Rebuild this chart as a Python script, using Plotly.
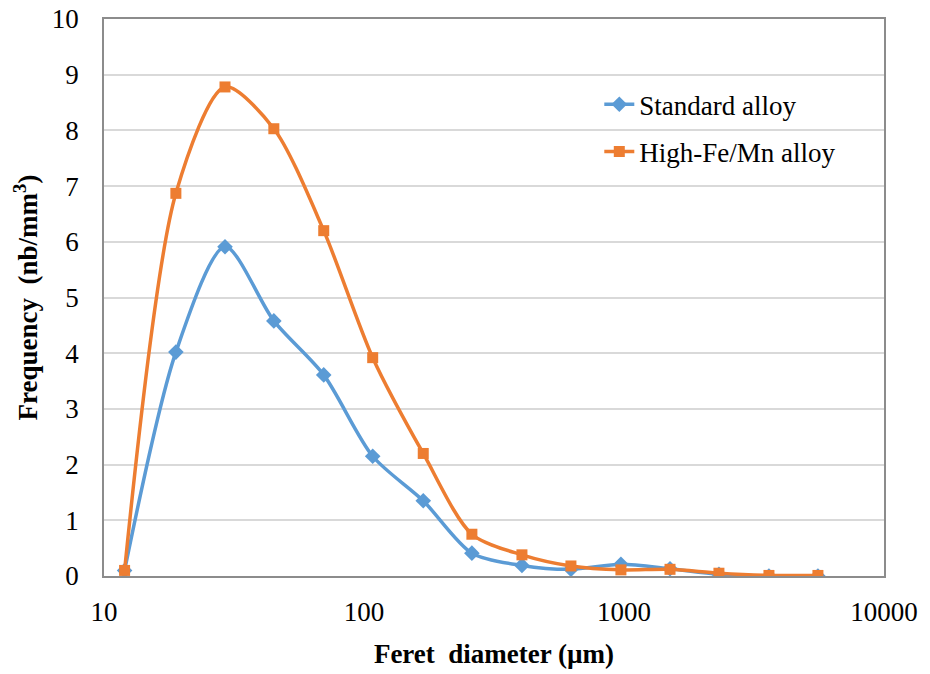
import plotly.graph_objects as go

diameter = [12, 18.9, 29.2, 45, 70, 108, 169, 260, 405, 625, 973, 1503, 2318, 3610, 5570]
standard = [0.1, 4.02, 5.91, 4.58, 3.61, 2.15, 1.35, 0.41, 0.19, 0.12, 0.21, 0.13, 0.03, 0.0, 0.0]
high_fe_mn = [0.1, 6.87, 8.78, 8.03, 6.2, 3.92, 2.2, 0.75, 0.38, 0.18, 0.11, 0.12, 0.05, 0.01, 0.01]
x_ticks = [10, 100, 1000, 10000]
x_tick_labels = ["10", "100", "1000", "10000"]

font_family = "Liberation Serif"

fig = go.Figure()
fig.add_trace(go.Scatter(
    x=diameter, y=standard, name="Standard alloy", mode="lines+markers",
    legendgroup="a",
    line=dict(color="#5B9BD5", width=3.5, shape="spline", smoothing=0.8),
    marker=dict(symbol="diamond", size=12, color="#5B9BD5"),
))
fig.add_trace(go.Scatter(
    x=diameter, y=high_fe_mn, name="High-Fe/Mn alloy", mode="lines+markers",
    legendgroup="b",
    line=dict(color="#ED7D31", width=3.5, shape="spline", smoothing=0.8),
    marker=dict(symbol="square", size=11, color="#ED7D31"),
))

fig.update_layout(
    width=930, height=674,
    margin=dict(l=104, r=46, t=19, b=98, autoexpand=False),
    paper_bgcolor="white", plot_bgcolor="white",
    font=dict(family=font_family, size=27, color="black"),
    legend=dict(x=0.635, y=0.89, xanchor="left", yanchor="top",
                bgcolor="rgba(0,0,0,0)", font=dict(size=27, family=font_family),
                tracegroupgap=9),
    showlegend=True,
)
fig.update_xaxes(
    type="log", range=[1, 4], tickvals=x_ticks, ticktext=x_tick_labels,
    showgrid=False, showline=True, linecolor="#8c8c8c", linewidth=1.5, mirror=True,
    ticks="", tickfont=dict(size=27), ticklabelstandoff=11, ticklabeloverflow="allow",
    title=dict(text="<b>Feret  diameter (µm)</b>", font=dict(size=27), standoff=18),
)
fig.update_yaxes(
    range=[0, 10], dtick=1, showgrid=True, gridcolor="#d9d9d9", gridwidth=1.5,
    showline=True, linecolor="#8c8c8c", linewidth=1.5, mirror=True,
    ticks="", tickfont=dict(size=27), zeroline=False, ticklabelstandoff=18,
    ticklabeloverflow="allow",
    title=dict(text="<b>Frequency  (nb/mm<sup>3</sup>)</b>", font=dict(size=27), standoff=6),
)

fig.write_html(
    "out.html",
    config={"displayModeBar": False},
    post_script="document.body.style.margin='0';document.body.style.overflow='hidden';",
)
